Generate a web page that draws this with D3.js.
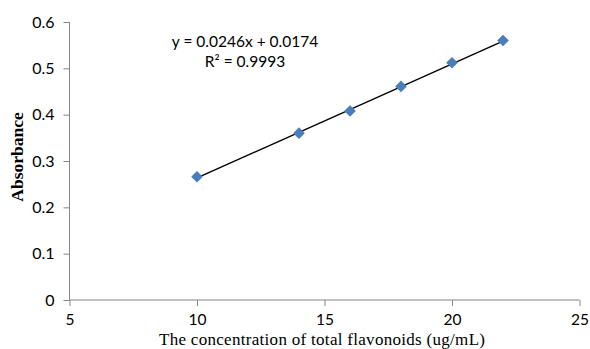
<!DOCTYPE html>
<html>
<head>
<meta charset="utf-8">
<script src="https://cdn.jsdelivr.net/npm/d3@7"></script>
<style>
  body { margin: 0; background: #fff; }
  svg { display: block; }
</style>
</head>
<body>
<div id="chart"></div>
<script>
// concentration (ug/mL) and measured absorbance
const concentration = [10, 14, 16, 18, 20, 22];
const absorbance = [0.266, 0.360, 0.408, 0.461, 0.512, 0.560];
const xTicks = [5, 10, 15, 20, 25];
const yTicks = [0, 0.1, 0.2, 0.3, 0.4, 0.5, 0.6];
const slope = 0.0246, intercept = 0.0174;

const width = 590, height = 349;
const svg = d3.select("#chart").append("svg")
    .attr("width", width)
    .attr("height", height);

const x = d3.scaleLinear().domain([5, 25]).range([69.5, 579.5]);
const y = d3.scaleLinear().domain([0, 0.6]).range([300, 22]);

const axisColor = "#868686";

// y axis
const gy = svg.append("g")
    .attr("transform", "translate(69.5,0)")
    .call(d3.axisLeft(y).tickValues(yTicks).tickSize(6).tickPadding(9)
        .tickFormat(d => d === 0 ? "0" : d3.format(".1f")(d)));
gy.select(".domain").attr("stroke", axisColor).attr("d", "M0," + y(0.6) + "V" + y(0));
gy.selectAll(".tick line").attr("stroke", axisColor);
gy.selectAll("text")
    .attr("font-family", "Lato, 'Open Sans', sans-serif")
    .attr("font-size", "16px")
    .attr("fill", "#000");

// x axis
const gx = svg.append("g")
    .attr("transform", "translate(0,300)")
    .call(d3.axisBottom(x).tickValues(xTicks).tickSize(6).tickPadding(8));
gx.select(".domain").attr("stroke", axisColor).attr("d", "M" + x(5) + ",0H" + x(25));
gx.selectAll(".tick line").attr("stroke", axisColor);
gx.selectAll("text")
    .attr("font-family", "Lato, 'Open Sans', sans-serif")
    .attr("font-size", "15.5px")
    .attr("fill", "#000");

// axis titles
svg.append("text")
    .attr("x", 322)
    .attr("y", 344.5)
    .attr("text-anchor", "middle")
    .attr("font-family", "'Liberation Serif', 'DejaVu Serif', serif")
    .attr("font-size", "17px")
    .attr("textLength", 326)
    .attr("lengthAdjust", "spacing")
    .text("The concentration of total flavonoids (ug/mL)");

svg.append("text")
    .attr("transform", "translate(23,157) rotate(-90)")
    .attr("text-anchor", "middle")
    .attr("font-family", "'Liberation Serif', 'DejaVu Serif', serif")
    .attr("font-weight", "bold")
    .attr("font-size", "17.5px")
    .text("Absorbance");

// linear trendline
const xMin = d3.min(concentration), xMax = d3.max(concentration);
svg.append("line")
    .attr("x1", x(xMin)).attr("y1", y(slope * xMin + intercept))
    .attr("x2", x(xMax)).attr("y2", y(slope * xMax + intercept))
    .attr("stroke", "#000")
    .attr("stroke-width", 1.4);

// diamond markers
const diamond = d3.symbol().type(d3.symbolSquare).size(68);
svg.selectAll(".pt")
    .data(concentration)
    .enter().append("path")
    .attr("class", "pt")
    .attr("d", diamond)
    .attr("transform", (d, i) => "translate(" + x(d) + "," + y(absorbance[i]) + ") rotate(45)")
    .attr("fill", "#4a7ebb");

// equation label
const eq = svg.append("text")
    .attr("font-family", "Lato, 'Open Sans', sans-serif")
    .attr("font-size", "15.5px")
    .attr("text-anchor", "middle");
eq.append("tspan").attr("x", 245).attr("y", 47).text("y = 0.0246x + 0.0174");
eq.append("tspan").attr("x", 245).attr("y", 67).text("R² = 0.9993");
</script>
</body>
</html>
